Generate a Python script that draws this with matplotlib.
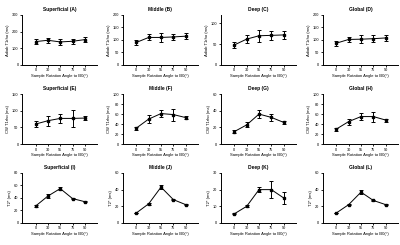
import numpy as np
import matplotlib.pyplot as plt

plt.rcParams['font.family'] = ['Liberation Sans', 'DejaVu Sans']

angles = ['0', '30', '55', '75', '90']
xlabel = 'Sample Rotation Angle to B0(°)'

titles = ['Superficial (A)', 'Middle (B)', 'Deep (C)', 'Global (D)',
          'Superficial (E)', 'Middle (F)', 'Deep (G)', 'Global (H)',
          'Superficial (I)', 'Middle (J)', 'Deep (K)', 'Global (L)']
row_ylabels = ['Adiab T1rho (ms)', 'CW T1rho (ms)', 'T2* (ms)']

# mean values
adiab_sup = [140, 148, 138, 142, 152]
adiab_mid = [90, 110, 110, 112, 115]
adiab_deep = [48, 62, 70, 71, 72]
adiab_glob = [87, 102, 103, 105, 108]
cw_sup = [60, 70, 77, 77, 78]
cw_mid = [32, 50, 61, 59, 53]
cw_deep = [15, 23, 36, 32, 26]
cw_glob = [30, 45, 55, 55, 48]
t2s_sup = [27, 43, 55, 39, 34]
t2s_mid = [12, 23, 43, 28, 22]
t2s_deep = [5.5, 10, 20, 20, 15]
t2s_glob = [12, 22, 37, 27, 22]

# error bars (SD)
adiab_sup_err = [14, 15, 18, 15, 16]
adiab_mid_err = [10, 12, 17, 12, 12]
adiab_deep_err = [8, 9, 14, 11, 10]
adiab_glob_err = [10, 11, 17, 13, 13]
cw_sup_err = [8, 15, 14, 25, 7]
cw_mid_err = [3, 8, 7, 12, 3]
cw_deep_err = [2, 3, 5, 4, 2]
cw_glob_err = [3, 6, 7, 10, 3]
t2s_sup_err = [2, 3, 3, 1, 1]
t2s_mid_err = [0.5, 1, 2, 0.5, 0.5]
t2s_deep_err = [0.3, 0.5, 1.5, 5, 3.5]
t2s_glob_err = [0.5, 1, 2, 1, 1]

means = [adiab_sup, adiab_mid, adiab_deep, adiab_glob,
         cw_sup, cw_mid, cw_deep, cw_glob,
         t2s_sup, t2s_mid, t2s_deep, t2s_glob]
errs = [adiab_sup_err, adiab_mid_err, adiab_deep_err, adiab_glob_err,
        cw_sup_err, cw_mid_err, cw_deep_err, cw_glob_err,
        t2s_sup_err, t2s_mid_err, t2s_deep_err, t2s_glob_err]

ylims = [300, 200, 120, 200, 150, 100, 60, 100, 80, 60, 30, 60]
ysteps = [100, 50, 50, 50, 50, 20, 20, 20, 20, 20, 10, 20]

fig = plt.figure(figsize=(4, 2.45), dpi=100)

lefts = [0.055, 0.307, 0.552, 0.807]
bottoms = [0.735, 0.412, 0.09]
w, h = 0.188, 0.204

x = np.arange(len(angles))
for i in range(12):
    r, c = divmod(i, 4)
    ax = fig.add_axes([lefts[c], bottoms[r], w, h])
    ax.errorbar(x, means[i], yerr=errs[i], color='black', lw=0.7,
                marker='s', ms=1.6, capsize=1.3, elinewidth=0.7, capthick=0.7)
    ax.set_xlim(-1.1, 5.0)
    ax.set_ylim(0, ylims[i])
    ax.set_yticks(np.arange(0, ylims[i] + 0.1, ysteps[i]))
    ax.set_xticks(x)
    ax.set_xticklabels(angles)
    ax.spines['top'].set_visible(False)
    ax.spines['right'].set_visible(False)
    for s in ['left', 'bottom']:
        ax.spines[s].set_linewidth(0.7)
    ax.tick_params(labelsize=2.8, width=0.6, length=1.5, pad=1)
    ax.set_title(titles[i], fontsize=3.5, fontweight='bold', pad=3)
    ax.set_xlabel(xlabel, fontsize=3.0, labelpad=1)
    ax.set_ylabel(row_ylabels[r], fontsize=3.0, labelpad=1.5)

fig.savefig('out.png', dpi=100)
